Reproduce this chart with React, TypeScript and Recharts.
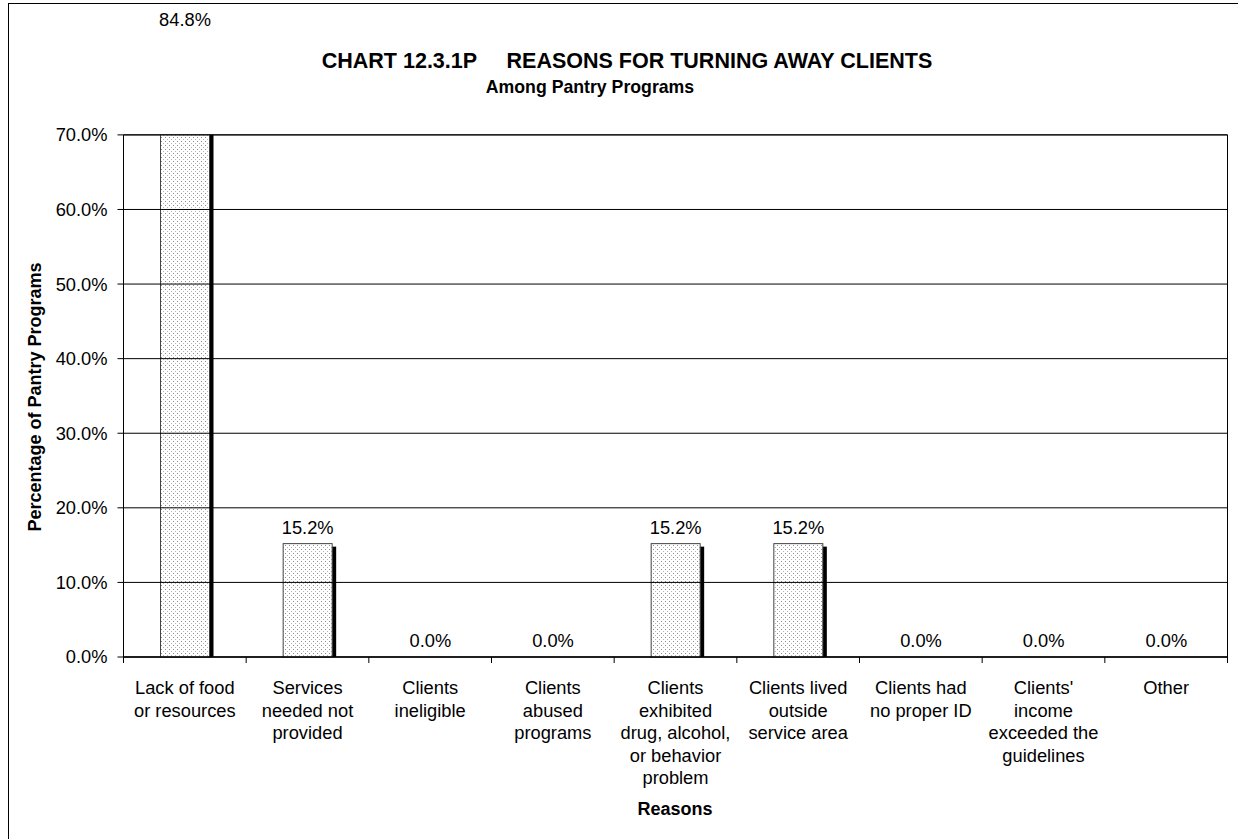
import { BarChart, Bar, XAxis, YAxis, ReferenceLine, ReferenceArea, LabelList } from "recharts"

const font = 'Arial, "Liberation Sans", sans-serif'
const fs = 18.3

// category labels, one entry per line as wrapped in the original
const reasons = [
  ["Lack of food", "or resources"],
  ["Services", "needed not", "provided"],
  ["Clients", "ineligible"],
  ["Clients", "abused", "programs"],
  ["Clients", "exhibited", "drug, alcohol,", "or behavior", "problem"],
  ["Clients lived", "outside", "service area"],
  ["Clients had", "no proper ID"],
  ["Clients'", "income", "exceeded the", "guidelines"],
  ["Other"],
]
const shares = [0.848, 0.152, 0, 0, 0.152, 0.152, 0, 0, 0]
const yTicks = [0, 0.1, 0.2, 0.3, 0.4, 0.5, 0.6, 0.7]
const yMax = 0.7

const data = reasons.map((lines, i) => ({ name: lines.join(" "), value: shares[i] }))

const pct = (v: number) => `${(v * 100).toFixed(1)}%`

function BarShape(props: any) {
  const { x, y, width, height, payload, index } = props
  const v = payload?.value
  if (!v || !height || height <= 0) return null
  const base = y + height
  // excel cuts the bar at the top of the value axis (70%)
  const cap = base - yMax * (height / v)
  const top = Math.max(y, cap)
  const h = base - top
  const shadowTop = Math.max(y + 3, cap)
  const id = `dots-${index}`
  return (
    <g>
      <defs>
        <pattern id={id} width={4} height={4} patternUnits="userSpaceOnUse">
          <rect width={4} height={4} fill="#fff" />
          <rect x={1} y={1} width={1} height={1} fill="#8c8c8c" />
          <rect x={3} y={3} width={1} height={1} fill="#b4b4b4" />
        </pattern>
      </defs>
      <rect x={x + width - 1} y={shadowTop} width={5} height={base - shadowTop} fill="#000" />
      <rect x={x} y={top} width={width} height={h} fill={`url(#${id})`} stroke="#444" strokeWidth={1} />
    </g>
  )
}

function ValueLabel(props: any) {
  const vb = props.viewBox ?? props
  const { x, y, width } = vb
  const hh = vb.height ?? 0
  const top = Math.min(y, y + hh)
  return (
    <text x={x + width / 2} y={Math.max(top - 10, 26)} textAnchor="middle" fontSize={fs} fontFamily={font} fill="#000">
      {pct(Number(props.value))}
    </text>
  )
}

function ReasonTick(props: any) {
  const { x, y, payload, index } = props
  const half = payload?.offset || 61.3
  const lines = reasons[index] ?? [String(payload.value)]
  return (
    <g>
      <line x1={x - half} x2={x - half} y1={y} y2={y + 6} stroke="#000" />
      {index === reasons.length - 1 && <line x1={x + half} x2={x + half} y1={y} y2={y + 6} stroke="#000" />}
      <text x={x} y={y + 37} textAnchor="middle" fontSize={fs} fontFamily={font} fill="#000">
        {lines.map((l, i) => (
          <tspan key={i} x={x} dy={i === 0 ? 0 : 22.5}>
            {l}
          </tspan>
        ))}
      </text>
    </g>
  )
}

export default function App() {
  return (
    <div style={{ position: "absolute", left: 0, top: 0, width: 1238, height: 839, overflow: "hidden", background: "#fff", fontFamily: font }}>
      <BarChart
        width={1238}
        height={839}
        data={data}
        margin={{ top: 23, right: 10.5, bottom: 152, left: 23.5 }}
        barSize={49}
      >
        {yTicks.map((t) => (
          <ReferenceLine key={t} y={t} stroke="#000" strokeWidth={1} />
        ))}
        <ReferenceArea y1={0} y2={yMax} fill="none" stroke="#000" strokeWidth={1} />
        <XAxis
          dataKey="name"
          interval={0}
          height={30}
          tickSize={0}
          tickMargin={0}
          tickLine={false}
          axisLine={{ stroke: "#000" }}
          tick={<ReasonTick />}
        />
        <YAxis
          type="number"
          domain={[0, 0.85]}
          ticks={yTicks}
          width={100}
          axisLine={false}
          tickSize={6}
          tickMargin={10}
          tickLine={{ stroke: "#000" }}
          tickFormatter={pct}
          tick={{ fontSize: fs, fill: "#000", fontFamily: font }}
        />
        <Bar dataKey="value" isAnimationActive={false} shape={(p: any) => <BarShape {...p} />}>
          <LabelList dataKey="value" content={(p: any) => <ValueLabel {...p} />} />
        </Bar>
      </BarChart>
      <svg width={1238} height={839} style={{ position: "absolute", left: 0, top: 0, pointerEvents: "none" }}>
        <line x1={8.5} x2={8.5} y1={3} y2={839} stroke="#000" />
        <line x1={8} x2={1238} y1={3.5} y2={3.5} stroke="#000" />
        <g fontFamily={font} fontWeight="bold" fill="#000">
          <text x={627} y={67.5} fontSize={21.5} textAnchor="middle" style={{ whiteSpace: "pre" }}>
            {"CHART 12.3.1P     REASONS FOR TURNING AWAY CLIENTS"}
          </text>
          <text x={590} y={93} fontSize={17.7} textAnchor="middle">Among Pantry Programs</text>
          <text x={675} y={815} fontSize={18} textAnchor="middle">Reasons</text>
          <text x={0} y={0} fontSize={18} textAnchor="middle" transform="translate(41 397) rotate(-90)">
            Percentage of Pantry Programs
          </text>
        </g>
      </svg>
    </div>
  )
}
